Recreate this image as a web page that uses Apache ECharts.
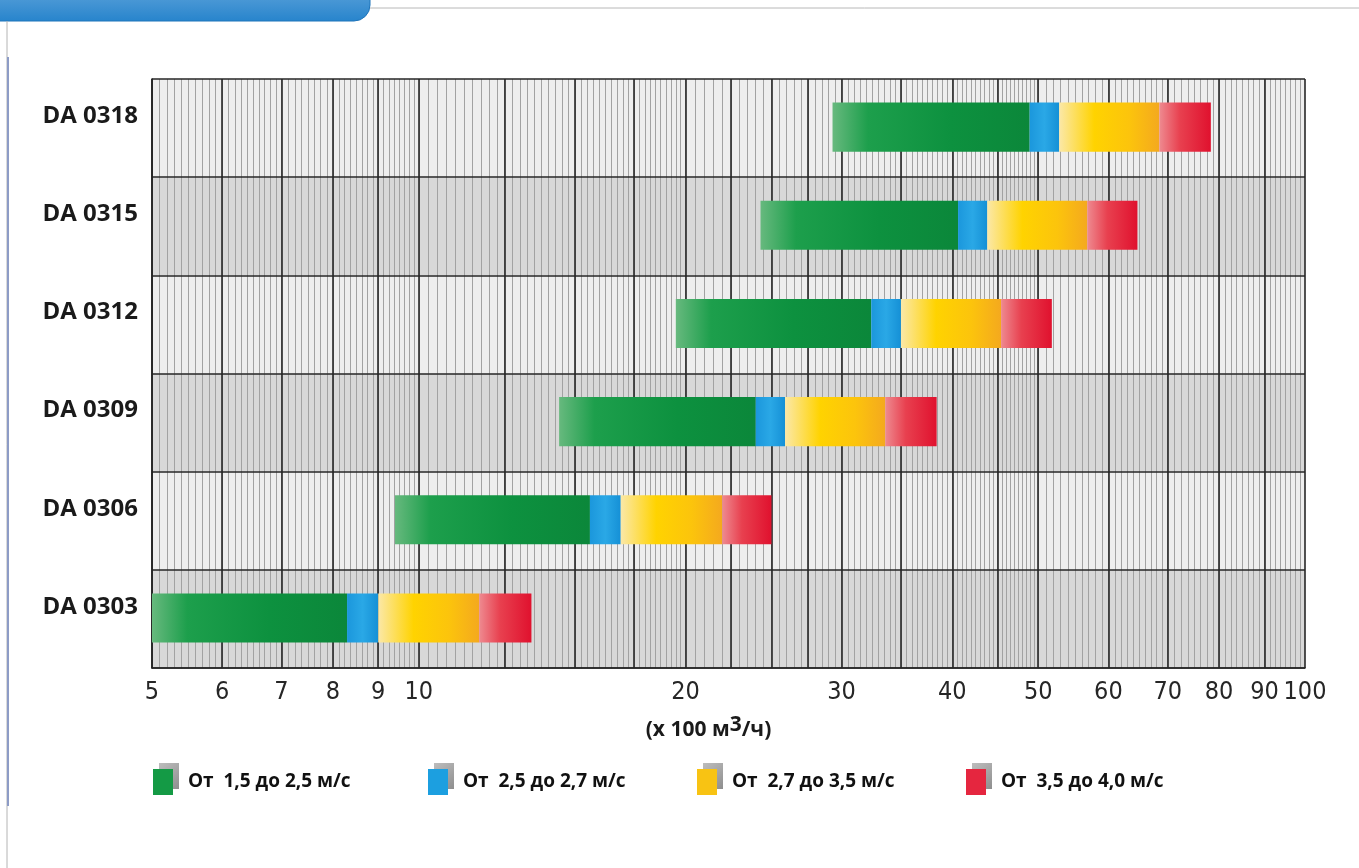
<!DOCTYPE html>
<html>
<head>
<meta charset="utf-8">
<script src="https://cdn.jsdelivr.net/npm/echarts@6/dist/echarts.min.js"></script>
<style>
    html, body { margin: 0; padding: 0; background: #fff; }
    #chart { width: 1359px; height: 868px; }
</style>
</head>
<body>
<div id="chart"></div>
<script>
    // models, bottom to top
    var categories = ['DA 0303', 'DA 0306', 'DA 0309', 'DA 0312', 'DA 0315', 'DA 0318'];

    // flow (x 100 m3/h) where each speed band starts / ends
    var flowStart  = [5.0, 9.4, 14.4, 19.5, 24.3, 29.3];
    var flowGreen  = [8.3, 15.6, 24.0, 32.4, 40.6, 48.9];
    var flowBlue   = [9.0, 16.9, 25.9, 35.0, 43.8, 52.8];
    var flowYellow = [11.7, 22.0, 33.6, 45.4, 56.8, 68.5];
    var flowRed    = [13.4, 25.0, 38.4, 51.8, 64.7, 78.3];

    var speedNames = ['От  1,5 до 2,5 м/с', 'От  2,5 до 2,7 м/с', 'От  2,7 до 3,5 м/с', 'От  3,5 до 4,0 м/с'];

    var tickLabels = [5, 6, 7, 8, 9, 10, 20, 30, 40, 50, 60, 70, 80, 90, 100];
    var majorLines = [5, 6, 7, 8, 9, 10, 12.5, 15, 17.5, 20, 22.5, 25, 27.5, 30, 35, 40, 45, 50, 60, 70, 80, 90, 100];
    var minorSteps = [[5, 7, 0.1], [7, 10, 0.125], [10, 20, 0.25], [20, 50, 0.5], [50, 70, 1], [70, 100, 1.25]];

    var minorLines = [];
    minorSteps.forEach(function (s) {
        for (var v = s[0]; v < s[1] - 1e-9; v += s[2]) {
            minorLines.push(Math.round(v * 1000) / 1000);
        }
    });

    function segments(from, to) {
        return categories.map(function (c, i) {
            return [from[i], to[i], i];
        });
    }

    function grad(stops) {
        return new echarts.graphic.LinearGradient(0, 0, 1, 0, stops.map(function (s) {
            return { offset: s[0], color: s[1] };
        }));
    }

    var bands = [
        { from: flowStart, to: flowGreen, solid: '#149a45',
          fill: grad([[0, '#67b97e'], [0.18, '#1d9f4c'], [0.6, '#0d913f'], [1, '#0b873a']]) },
        { from: flowGreen, to: flowBlue, solid: '#1c9fe0',
          fill: grad([[0, '#1b97dc'], [0.5, '#2aa8e6'], [1, '#1590d6']]) },
        { from: flowBlue, to: flowYellow, solid: '#f8c313',
          fill: grad([[0, '#fbe8a8'], [0.35, '#ffd300'], [0.7, '#fcc40c'], [1, '#f4a91e']]) },
        { from: flowYellow, to: flowRed, solid: '#e5263f',
          fill: grad([[0, '#ee8a90'], [0.4, '#e8404f'], [1, '#e0112e']]) }
    ];

    var legendLeft = [153, 428, 697, 966];

    function renderItem(params, api) {
        var a = api.coord([api.value(0), api.value(2)]);
        var b = api.coord([api.value(1), api.value(2)]);
        var h = api.size([1, 1], [api.value(0), api.value(2)])[1] * 0.5;
        return {
            type: 'rect',
            shape: { x: a[0], y: a[1] - h / 2 - 1, width: b[0] - a[0], height: h },
            style: api.style()
        };
    }

    var series = bands.map(function (b, i) {
        return {
            name: speedNames[i],
            type: 'custom',
            xAxisIndex: 1,
            yAxisIndex: 1,
            renderItem: renderItem,
            encode: { x: [0, 1], y: 2 },
            itemStyle: { color: b.fill },
            data: segments(b.from, b.to),
            z: 10,
            silent: true
        };
    });

    var legends = bands.map(function (b, i) {
        return {
            data: [{ name: speedNames[i], itemStyle: { color: b.solid } }],
            left: legendLeft[i],
            top: 769,
            padding: 0,
            icon: 'rect',
            itemWidth: 20,
            itemHeight: 26,
            selectedMode: false,
            textStyle: {
                color: '#111',
                fontFamily: 'Open Sans',
                fontWeight: 'bold',
                fontSize: 19,
                padding: [0, 0, 0, 10]
            }
        };
    });

    var graphics = [
        {
            type: 'rect',
            shape: { x: -20, y: -30, width: 390, height: 51, r: 16 },
            style: {
                fill: new echarts.graphic.LinearGradient(0, 0, 0, 1, [
                    { offset: 0, color: '#78b2e2' },
                    { offset: 1, color: '#2784cc' }
                ]),
                stroke: '#1f74ba',
                lineWidth: 1
            }
        },
        { type: 'line', shape: { x1: 370, y1: 8, x2: 1359, y2: 8 }, style: { stroke: '#b8b8b8', lineWidth: 1 } },
        { type: 'line', shape: { x1: 7, y1: 21, x2: 7, y2: 868 }, style: { stroke: '#b4b4b4', lineWidth: 1 } },
        { type: 'line', shape: { x1: 8, y1: 57, x2: 8, y2: 806 }, style: { stroke: '#8d9cc6', lineWidth: 2 } }
    ];
    legendLeft.forEach(function (x) {
        graphics.push({
            type: 'rect',
            shape: { x: x + 6, y: 763, width: 20, height: 26 },
            style: {
                fill: new echarts.graphic.LinearGradient(0, 0, 1, 1, [
                    { offset: 0, color: '#bdbdbd' },
                    { offset: 1, color: '#8e8e8e' }
                ])
            },
            z: 0
        });
    });

    var option = {
        backgroundColor: '#fff',
        animation: false,
        grid: { left: 152, right: 54, top: 79, bottom: 200, outerBoundsMode: 'none' },
        graphic: graphics,
        legend: legends,
        xAxis: [
            {
                type: 'log',
                min: 5,
                max: 100,
                position: 'top',
                z: 1,
                axisLine: { show: false },
                axisLabel: { show: false },
                axisTick: { show: false, customValues: minorLines },
                splitLine: { show: true, lineStyle: { color: '#a2a2a2', width: 1 } }
            },
            {
                type: 'log',
                min: 5,
                max: 100,
                position: 'bottom',
                z: 2,
                axisLine: { show: true, lineStyle: { color: '#222', width: 1.6 } },
                axisTick: { show: false, customValues: majorLines },
                axisLabel: {
                    customValues: tickLabels,
                    formatter: function (v) { return String(Math.round(v)); },
                    margin: 12,
                    color: '#262626',
                    fontFamily: '"Liberation Sans Narrow", "DejaVu Sans Condensed", "Roboto Condensed", sans-serif',
                    fontSize: 25
                },
                splitLine: { show: true, lineStyle: { color: '#262626', width: 1.6 } },
                name: '{a|(x 100 м}{s|3}{a|/ч)}',
                nameLocation: 'middle',
                nameGap: 47,
                nameTextStyle: {
                    padding: [0, 40, 0, 0],
                    rich: {
                        a: { fontFamily: 'Open Sans', fontWeight: 'bold', fontSize: 21, color: '#1a1a1a' },
                        s: { fontFamily: 'Open Sans', fontWeight: 'bold', fontSize: 21, color: '#1a1a1a', padding: [0, 0, 10, 0] }
                    }
                }
            }
        ],
        yAxis: [
            {
                type: 'category',
                data: categories,
                z: 0,
                axisLine: { show: false },
                axisTick: { show: false },
                axisLabel: { show: false },
                splitLine: { show: false },
                splitArea: { show: true, areaStyle: { color: ['#d8d8d8', '#eeeeee'] } }
            },
            {
                type: 'category',
                data: categories,
                position: 'left',
                z: 3,
                axisLine: { show: true, lineStyle: { color: '#222', width: 1.6 } },
                axisTick: { show: false },
                axisLabel: {
                    margin: 14,
                    color: '#1a1a1a',
                    fontFamily: 'Open Sans',
                    fontWeight: 'bold',
                    fontSize: 24,
                    verticalAlign: 'bottom'
                },
                splitLine: { show: true, lineStyle: { color: '#262626', width: 1.6 } }
            }
        ],
        series: series
    };

    var chart = echarts.init(document.getElementById('chart'));
    chart.setOption(option);
</script>
</body>
</html>
